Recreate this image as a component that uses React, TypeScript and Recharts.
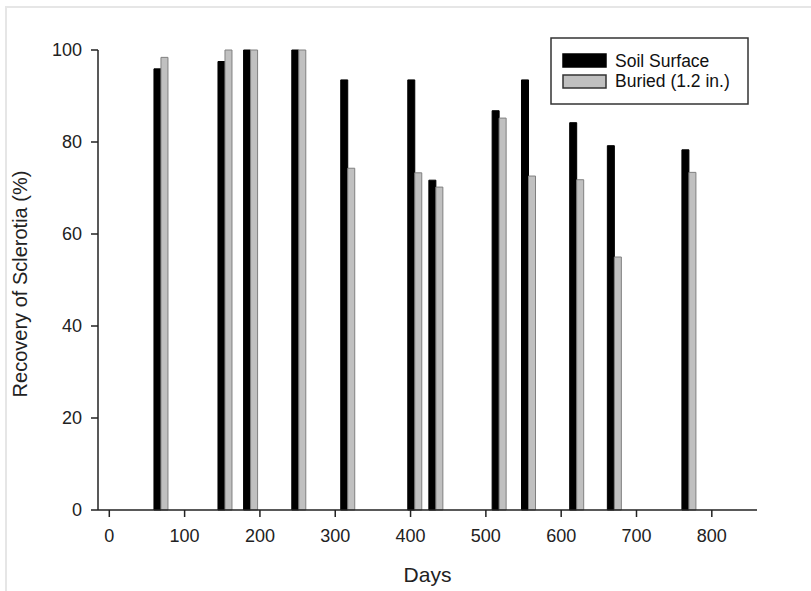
import React from 'react';
import { BarChart, Bar, XAxis, YAxis, Legend } from 'recharts';

// days after placement (pair centres), recovery % for each treatment
const days = [68, 153, 187, 251, 316, 405, 433, 517, 556, 620, 670, 769];
const soilSurface = [95.9, 97.5, 100, 100, 93.5, 93.5, 71.7, 86.8, 93.5, 84.2, 79.2, 78.3];
const buried = [98.4, 100, 100, 100, 74.3, 73.3, 70.2, 85.2, 72.6, 71.8, 55.0, 73.4];

const seriesNames = ['Soil Surface', 'Buried (1.2 in.)'];
const seriesColors = ['#000', '#c0c0c0'];

const xTicks = [0, 100, 200, 300, 400, 500, 600, 700, 800];
const yTicks = [0, 20, 40, 60, 80, 100];

const data = days.map((d, i) => ({
  day: d,
  soil: soilSurface[i],
  buried: buried[i],
}));

const FONT = '"Liberation Sans", Arial, sans-serif';
const AXIS = '#222';

const LegendBox = () => (
  <svg width={200} height={69} style={{ display: 'block' }}>
    <rect x={1} y={1} width={197} height={66} fill="#fff" stroke="#333" strokeWidth={1.5} />
    {seriesNames.map((name, i) => (
      <g key={name}>
        <rect
          x={13}
          y={17 + i * 21}
          width={43}
          height={13}
          fill={seriesColors[i]}
          stroke={i === 0 ? '#000' : '#333'}
          strokeWidth={1.5}
        />
        <text x={65} y={30 + i * 20} fontSize={17.5} fontFamily={FONT} fill="#111">
          {name}
        </text>
      </g>
    ))}
  </svg>
);

const YTitle = (props: any) => {
  const vb = props.viewBox || { x: 0, y: 0, width: 0, height: 0 };
  const cx = vb.x + 27;
  const cy = vb.y + vb.height / 2 + 4;
  return (
    <text
      x={0}
      y={0}
      transform={`translate(${cx},${cy}) rotate(-90)`}
      textAnchor="middle"
      fontSize={20}
      fontFamily={FONT}
      fill="#222"
    >
      Recovery of Sclerotia (%)
    </text>
  );
};

const App: React.FC = () => {
  return (
    <div style={{ position: 'absolute', left: 0, top: 0, width: 811, height: 591, background: '#fff', fontFamily: FONT }}>
      <div
        style={{
          position: 'absolute',
          left: 5,
          top: 6,
          width: 806,
          height: 585,
          borderTop: '2px solid #e6e6e6',
          borderLeft: '2px solid #e6e6e6',
          boxSizing: 'border-box',
        }}
      />
      <div style={{ position: 'absolute', left: 0, top: 0 }}>
        <BarChart
          width={811}
          height={591}
          data={data}
          margin={{ top: 50, right: 54, bottom: 0, left: 0 }}
          barGap={0}
          barSize={7}
        >
          <XAxis
            dataKey="day"
            type="number"
            domain={[-15, 860]}
            ticks={xTicks}
            height={81}
            tickSize={7}
            tickMargin={12}
            stroke={AXIS}
            strokeWidth={1.5}
            tick={{ fontSize: 18, fill: '#222', fontFamily: FONT }}
            label={{ value: 'Days', position: 'insideBottom', offset: 9, fontSize: 21, fill: '#222', fontFamily: FONT }}
          />
          <YAxis
            type="number"
            domain={[0, 100]}
            ticks={yTicks}
            width={98}
            tickSize={7}
            tickMargin={9}
            stroke={AXIS}
            strokeWidth={1.5}
            tick={{ fontSize: 18, fill: '#222', fontFamily: FONT }}
            label={{ content: <YTitle /> }}
          />
          <Legend
            content={<LegendBox />}
            layout="horizontal"
            verticalAlign="middle"
            align="center"
            wrapperStyle={{ position: 'absolute', left: 550, top: 37, width: 200, height: 69 }}
          />
          <Bar dataKey="soil" name={seriesNames[0]} fill={seriesColors[0]} stroke="#000" strokeWidth={1} isAnimationActive={false} />
          <Bar dataKey="buried" name={seriesNames[1]} fill={seriesColors[1]} stroke="#808080" strokeWidth={1} isAnimationActive={false} />
        </BarChart>
      </div>
    </div>
  );
};

export default App;
